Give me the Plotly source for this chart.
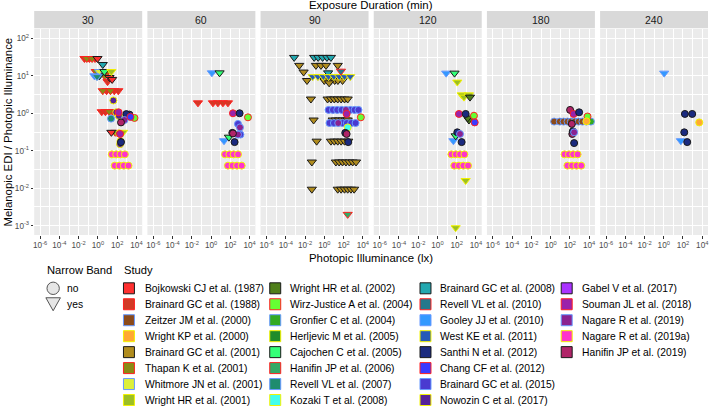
import plotly.graph_objects as go

W, H = 709, 406

# ---------------- data ----------------
durations = [30, 60, 90, 120, 180, 240]

studies = [
    "Bojkowski CJ et al. (1987)", "Brainard GC et al. (1988)", "Zeitzer JM et al. (2000)",
    "Wright KP et al. (2000)", "Brainard GC et al. (2001)", "Thapan K et al. (2001)",
    "Whitmore JN et al. (2001)", "Wright HR et al. (2001)", "Wright HR et al. (2002)",
    "Wirz-Justice A et al. (2004)", "Gronfier C et al. (2004)", "Herljevic M et al. (2005)",
    "Cajochen C et al. (2005)", "Hanifin JP et al. (2006)", "Revell VL et al. (2007)",
    "Kozaki T et al. (2008)", "Brainard GC et al. (2008)", "Revell VL et al. (2010)",
    "Gooley JJ et al. (2010)", "West KE et al. (2011)", "Santhi N et al. (2012)",
    "Chang CF et al. (2012)", "Brainard GC et al. (2015)", "Nowozin C et al. (2017)",
    "Gabel V et al. (2017)", "Souman JL et al. (2018)", "Nagare R et al. (2019)",
    "Nagare R et al. (2019a)", "Hanifin JP et al. (2019)",
]
study_fill = [
    "#FF3030", "#D23A26", "#8B4A1A", "#FFA833", "#B08C1E", "#8A8A14",
    "#DDF03A", "#9CBF24", "#4F7F1A", "#66FF33", "#33AA22", "#1F8C2A",
    "#33FF77", "#33AA66", "#1F8C6E", "#44FFEE", "#22A8B0", "#23788C",
    "#3399FF", "#2659B8", "#1A2A7F", "#3A3AFF", "#4A3AD0", "#552299",
    "#AA33FF", "#9A22AA", "#8A2290", "#FF33CC", "#B02468",
]
study_line = ["#1A1A1A", "#FF2020", "#6699FF", "#F2F200"] * 8

# panel 30 min
p30_study = [1, 5, 1, 5, 1, 0, 16, 5, 6, 12, 5, 7, 18, 16, 14, 5, 0, 0, 1,
             5, 1, 5, 1, 1, 23, 1, 1, 5, 1, 1,
             14, 23, 25, 23, 20, 9, 26, 20, 28, 21,
             0, 5, 12, 7, 6, 25, 23, 23, 20, 23,
             27, 27, 27, 27, 27, 27, 27, 27]
p30_lux = [0.04, 0.07, 0.13, 0.25, 0.5, 0.9, 3.2, 0.6, 1.3, 4.7, 10, 25, 0.43, 1.4, 0.8, 5, 16, 30, 10,
           3.2, 8, 20, 50, 130, 40, 2.5, 6, 15, 35, 60,
           23, 80, 140, 150, 1900, 6300, 560, 900, 250, 2400,
           25, 63, 158, 400, 250, 200, 160, 220, 250, 200,
           28, 79, 220, 630, 56, 170, 490, 1500]
p30_ratio = [29, 29, 29, 29, 29, 29, 20, 13, 13, 13, 13, 13, 10, 10, 9.5, 10, 9, 8, 7,
             4, 4, 4, 4, 4, 2.2, 1.1, 1.1, 1.1, 1.1, 1.1,
             0.72, 1.06, 1.06, 0.85, 0.92, 0.75, 0.66, 0.95, 0.57, 0.8,
             0.31, 0.31, 0.3, 0.31, 0.28, 0.28, 0.29, 0.18, 0.17, 0.15,
             0.08, 0.08, 0.08, 0.08, 0.04, 0.04, 0.04, 0.04]
p30_nb = [1, 1, 1, 1, 1, 1, 1, 1, 1, 1, 1, 1, 1, 1, 1, 1, 1, 1, 1,
          1, 1, 1, 1, 1, 0, 1, 1, 1, 1, 1,
          0, 0, 0, 0, 0, 0, 0, 0, 0, 0,
          1, 1, 1, 1, 1, 0, 0, 0, 0, 0,
          0, 0, 0, 0, 0, 0, 0, 0]

# panel 60 min
p60_study = [18, 12, 1, 1, 1, 1, 1, 25, 20, 9, 22, 26, 26, 22, 28, 20, 18, 12, 20,
             27, 27, 27, 27, 27, 27, 27, 27]
p60_lux = [1.2, 7.6, 0.043, 1.55, 5.1, 17, 56, 186, 912, 6761, 620, 1000, 620, 1100, 186, 160, 22, 71, 275,
           28, 79, 220, 630, 56, 170, 490, 1500]
p60_ratio = [12, 12, 1.9, 1.9, 1.9, 1.9, 1.9, 1.0, 1.0, 0.78, 0.52, 0.42, 0.27, 0.27, 0.29, 0.3, 0.185, 0.23, 0.17,
             0.08, 0.08, 0.08, 0.08, 0.04, 0.04, 0.04, 0.04]
p60_nb = [1, 1, 1, 1, 1, 1, 1, 0, 0, 0, 0, 0, 0, 0, 0, 0, 1, 1, 0,
          0, 0, 0, 0, 0, 0, 0, 0]

# panel 90 min
p90_study = [16, 16, 16, 16, 16, 16,
             4, 4, 4, 4, 4, 4, 4,
             4, 4, 4, 4, 4, 4,
             19, 19, 19, 19, 19, 19, 19, 19, 17, 16,
             4, 4, 4, 4, 4, 4, 4, 4,
             4, 4, 4, 4, 4, 4, 4,
             4, 4, 4, 4, 4, 4, 4,
             4, 4, 4, 4, 4, 4, 4, 4,
             4, 4, 4, 4, 4, 4, 4,
             22, 22, 22, 22, 26, 22, 22, 22,
             22, 22, 26, 22, 22, 22, 22,
             25, 9, 15, 20, 20, 28, 13]
p90_lux = [7.4e-4, 0.089, 0.23, 0.67, 1.9, 4.9,
           2.5e-3, 7.1e-3, 0.016, 0.135, 0.45, 1.5, 25,
           1.0, 4.9, 12, 26, 79, 3.2,
           0.063, 0.22, 0.8, 2.8, 10, 35, 126, 500, 54, 2.5,
           0.041, 2.2, 5, 11, 25, 56, 126, 270,
           0.078, 7.4, 16, 35, 79, 178, 270,
           0.16, 4.9, 11, 25, 56, 126, 309,
           0.051, 16, 35, 79, 178, 398, 891, 2000,
           0.051, 25, 56, 126, 270, 589, 1259,
           2.8, 7.9, 22, 63, 178, 501, 1413, 3548,
           3.5, 10, 28, 79, 224, 631, 1778,
           209, 6310, 269, 151, 309, 209, 269]
p90_ratio = [31, 31, 31, 31, 31, 31,
             19, 12.6, 7.5, 19, 19, 19, 19,
             7.5, 7.5, 7.5, 7.5, 7.5, 6.5,
             9.5, 9.5, 9.5, 9.5, 9.5, 9.5, 9.5, 9.5, 13.3, 12,
             2.4, 2.4, 2.4, 2.4, 2.4, 2.4, 2.4, 2.4,
             0.66, 0.66, 0.66, 0.66, 0.66, 0.66, 0.66,
             0.18, 0.18, 0.18, 0.18, 0.18, 0.18, 0.18,
             0.05, 0.05, 0.05, 0.05, 0.05, 0.05, 0.05, 0.05,
             0.0094, 0.0094, 0.0094, 0.0094, 0.0094, 0.0094, 0.0094,
             1.23, 1.23, 1.23, 1.23, 1.23, 1.23, 1.23, 1.23,
             0.55, 0.55, 0.55, 0.55, 0.55, 0.55, 0.55,
             0.96, 0.78, 0.42, 0.3, 0.17, 0.28, 0.002]
p90_nb = [1] * 66 + [0] * 15 + [0, 0, 0, 0, 0, 0, 1]

# panel 120 min
p120_study = [18, 12, 7, 7, 7, 7, 8, 25, 20, 9, 21, 8, 8, 20, 26, 12, 18, 20, 7, 7,
              27, 27, 27, 27, 27, 27, 27, 27]
p120_lux = [8.1, 59, 115, 324, 1862, 562, 2399, 170, 851, 6166, 7413, 1862, 1400, 115, 219, 78, 45, 324, 851, 78,
            28, 79, 220, 630, 56, 170, 490, 1500]
p120_ratio = [11.8, 11.8, 6.8, 3.1, 3.1, 2.7, 2.7, 0.96, 0.96, 0.86, 0.57, 0.66, 0.75, 0.31, 0.28, 0.25, 0.185, 0.17, 0.016, 0.00088,
              0.08, 0.08, 0.08, 0.08, 0.04, 0.04, 0.04, 0.04]
p120_nb = [1, 1, 1, 1, 1, 1, 1, 0, 0, 0, 0, 1, 1, 0, 0, 1, 1, 0, 1, 1,
           0, 0, 0, 0, 0, 0, 0, 0]

# panel 180 min
p180_study = [2, 2, 2, 2, 2, 2, 2, 2, 2, 10, 9, 3,
              28, 25, 20, 28, 26, 28, 20, 20,
              27, 27, 27, 27, 27, 27, 27, 27]
p180_lux = [2.3, 8.9, 22, 56, 126, 316, 794, 2000, 5012, 15136, 6761, 5370,
            105, 240, 912, 158, 275, 178, 200, 275,
            28, 79, 220, 630, 56, 170, 490, 1500]
p180_ratio = [0.6, 0.6, 0.6, 0.6, 0.6, 0.6, 0.6, 0.6, 0.6, 0.6, 0.82, 0.61,
              1.23, 0.96, 1.06, 0.52, 0.31, 0.28, 0.33, 0.16,
              0.08, 0.08, 0.08, 0.08, 0.04, 0.04, 0.04, 0.04]
p180_nb = [0] * 28

# panel 240 min
p240_study = [18, 20, 20, 3, 20, 18, 20]
p240_lux = [1.1, 158, 912, 4898, 135, 60, 275]
p240_ratio = [11.8, 0.96, 0.96, 0.57, 0.31, 0.185, 0.17]
p240_nb = [1, 0, 0, 0, 0, 1, 0]

panels = [
    (p30_study, p30_lux, p30_ratio, p30_nb),
    (p60_study, p60_lux, p60_ratio, p60_nb),
    (p90_study, p90_lux, p90_ratio, p90_nb),
    (p120_study, p120_lux, p120_ratio, p120_nb),
    (p180_study, p180_lux, p180_ratio, p180_nb),
    (p240_study, p240_lux, p240_ratio, p240_nb),
]

x_tickvals = [1e-6, 1e-4, 1e-2, 1, 1e2, 1e4]
x_ticktext = ["10<sup>-6</sup>", "10<sup>-4</sup>", "10<sup>-2</sup>", "10<sup>0</sup>", "10<sup>2</sup>", "10<sup>4</sup>"]
y_tickvals = [1e-3, 1e-2, 1e-1, 1, 1e1, 1e2]
y_ticktext = ["10<sup>-3</sup>", "10<sup>-2</sup>", "10<sup>-1</sup>", "10<sup>0</sup>", "10<sup>1</sup>", "10<sup>2</sup>"]

# ---------------- layout helpers ----------------
FONT = "Liberation Sans, Arial, sans-serif"


def px(x):
    return min(max(x / W, 0.0), 1.0)


def py(y):
    return min(max(1 - y / H, 0.0), 1.0)


panel_left0 = 33.3
panel_step = 113.5
panel_w = 108.3
plot_top, plot_bot = 29.0, 235.0
strip_top, strip_bot = 11.0, 28.3

fig = go.Figure()

for i, (st, lx, rt, nb) in enumerate(panels):
    xa = "x" if i == 0 else f"x{i+1}"
    ya = "y" if i == 0 else f"y{i+1}"
    order = []
    for s in st:
        if s not in order:
            order.append(s)
    for s in order:
        idx = [k for k in range(len(st)) if st[k] == s]
        fig.add_trace(go.Scatter(
            x=[lx[k] for k in idx], y=[rt[k] for k in idx],
            mode="markers", xaxis=xa, yaxis=ya, showlegend=False,
            marker=dict(
                symbol=["triangle-down" if nb[k] else "circle" for k in idx],
                size=[8 if nb[k] else 7 for k in idx],
                color=study_fill[s], opacity=1,
                line=dict(color=study_line[s], width=1),
            ),
            hoverinfo="skip",
        ))

layout = dict(
    width=W, height=H,
    margin=dict(l=0, r=0, t=0, b=0),
    paper_bgcolor="white", plot_bgcolor="#EBEBEB",
    font=dict(family=FONT, color="#1A1A1A"),
    showlegend=False,
)

shapes = []
annotations = []
TICKFONT = dict(size=8.2, color="#4D4D4D", family=FONT)

for i in range(6):
    left = panel_left0 + panel_step * i
    sfx = "" if i == 0 else str(i + 1)
    layout["xaxis" + sfx] = dict(
        type="log", domain=[px(left), px(left + panel_w)], range=[-6.62, 4.6],
        anchor="y" + sfx, tickmode="array", tickvals=x_tickvals, ticktext=x_ticktext,
        ticks="outside", ticklen=2.5, tickwidth=0.8, tickcolor="#333333",
        tickfont=TICKFONT, tickangle=0, ticklabeloverflow="allow",
        showgrid=True, gridcolor="white", gridwidth=1, zeroline=False, showline=False,
        minor=dict(tickvals=[1e-5, 1e-3, 1e-1, 10, 1e3], showgrid=True,
                   gridcolor="white", gridwidth=0.5, ticks=""),
    )
    layout["yaxis" + sfx] = dict(
        type="log", domain=[py(plot_bot), py(plot_top)], range=[-3.25, 2.25],
        anchor="x" + sfx, tickmode="array", tickvals=y_tickvals, ticktext=y_ticktext,
        showticklabels=(i == 0), ticks="outside" if i == 0 else "",
        ticklen=2.5, tickwidth=0.8, tickcolor="#333333",
        tickfont=TICKFONT, tickangle=0,
        showgrid=True, gridcolor="white", gridwidth=1, zeroline=False, showline=False,
        minor=dict(tickvals=[10 ** -2.5, 10 ** -1.5, 10 ** -0.5, 10 ** 0.5, 10 ** 1.5],
                   showgrid=True, gridcolor="white", gridwidth=0.5, ticks=""),
    )
    # strip
    shapes.append(dict(type="rect", xref="paper", yref="paper",
                       x0=px(left), x1=px(left + panel_w), y0=py(strip_bot), y1=py(strip_top),
                       fillcolor="#D9D9D9", line=dict(width=0), layer="below"))
    annotations.append(dict(text=str(durations[i]), xref="paper", yref="paper",
                            x=px(left + panel_w / 2), y=py((strip_top + strip_bot) / 2),
                            showarrow=False, xanchor="center", yanchor="middle",
                            font=dict(size=10.5, color="#1A1A1A", family=FONT)))

# axis titles
TFONT = dict(size=11.4, color="#000000", family=FONT)
annotations.append(dict(text="Exposure Duration (min)", xref="paper", yref="paper",
                        x=px(371.5), y=py(5.5), showarrow=False, xanchor="center", yanchor="middle",
                        font=TFONT))
annotations.append(dict(text="Photopic Illuminance (lx)", xref="paper", yref="paper",
                        x=px(371.5), y=py(258), showarrow=False, xanchor="center", yanchor="middle",
                        font=TFONT))
annotations.append(dict(text="Melanopic EDI / Photopic Illuminance", xref="paper", yref="paper",
                        x=px(7.5), y=py((plot_top + plot_bot) / 2), showarrow=False, textangle=-90,
                        xanchor="center", yanchor="middle", font=TFONT))

# legend: Narrow Band
LFONT = dict(size=10.3, color="#000000", family=FONT)
LTFONT = dict(size=11.2, color="#000000", family=FONT)
annotations.append(dict(text="Narrow Band", xref="paper", yref="paper", x=px(44.5), y=py(270),
                        showarrow=False, xanchor="left", yanchor="middle", font=LTFONT))
annotations.append(dict(text="Study", xref="paper", yref="paper", x=px(121.5), y=py(270),
                        showarrow=False, xanchor="left", yanchor="middle", font=LTFONT))
row_y = [288.3 + 15.96 * r for r in range(8)]
cx, r = 52.3, 6.2
shapes.append(dict(type="circle", xref="paper", yref="paper",
                   x0=px(cx - r), x1=px(cx + r), y0=py(row_y[0] + r), y1=py(row_y[0] - r),
                   fillcolor="#E6E6E6", line=dict(color="#555555", width=1)))
ty = row_y[1]
shapes.append(dict(type="path", xref="paper", yref="paper",
                   path=f"M {px(cx-7.3)} {py(ty-6.5)} L {px(cx+7.3)} {py(ty-6.5)} L {px(cx)} {py(ty+6.5)} Z",
                   fillcolor="#E6E6E6", line=dict(color="#555555", width=1)))
annotations.append(dict(text="no", xref="paper", yref="paper", x=px(64), y=py(row_y[0]),
                        showarrow=False, xanchor="left", yanchor="middle", font=LFONT))
annotations.append(dict(text="yes", xref="paper", yref="paper", x=px(64), y=py(row_y[1]),
                        showarrow=False, xanchor="left", yanchor="middle", font=LFONT))

# legend: Study (4 columns x 8 rows, column-major)
col_box = [128.3, 275.0, 425.7, 567.3]
col_text = [142.0, 288.0, 438.0, 580.5]
half = 5.5
for k, name in enumerate(studies):
    c, rr = divmod(k, 8)
    y = row_y[rr]
    bx = col_box[c]
    shapes.append(dict(type="rect", xref="paper", yref="paper",
                       x0=px(bx - half), x1=px(bx + half), y0=py(y + half), y1=py(y - half),
                       fillcolor=study_fill[k], line=dict(color=study_line[k], width=1)))
    annotations.append(dict(text=name, xref="paper", yref="paper", x=px(col_text[c]), y=py(y),
                            showarrow=False, xanchor="left", yanchor="middle", font=LFONT))

layout["shapes"] = shapes
layout["annotations"] = annotations
fig.update_layout(**layout)

fig.write_html("out.html", config={"displayModeBar": False},
               post_script="document.body.style.margin='0';document.body.style.padding='0';")
